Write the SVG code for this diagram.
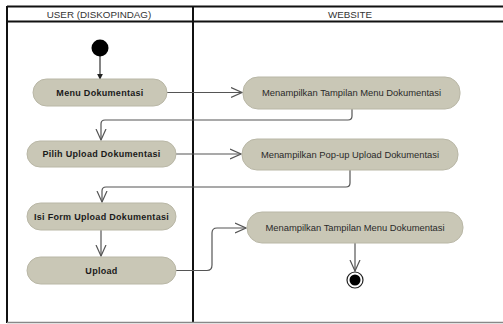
<svg xmlns="http://www.w3.org/2000/svg" width="503" height="324" viewBox="0 0 503 324">
  <style>
    .lane { stroke: #111; stroke-width: 2; fill: none; }
    .hdr { font-family: "Liberation Sans", Arial, sans-serif; font-size: 9.8px; fill: #333; text-anchor: middle; }
    .act { fill: #c9c7b6; stroke: #b9b7a6; stroke-width: 1; }
    .lbl { font-family: "Liberation Sans", Arial, sans-serif; font-size: 9px; font-weight: bold; fill: #1a1a1a; text-anchor: middle; letter-spacing: 0.3px; }
    .lbl2 { font-family: "Liberation Sans", Arial, sans-serif; font-size: 9.4px; fill: #2a2a2a; text-anchor: middle; }
    .flow { stroke: #555; stroke-width: 1.2; fill: none; marker-end: url(#open); }
  </style>
  <defs>
    <marker id="open" viewBox="0 0 12 12" refX="11" refY="6" markerWidth="12" markerHeight="12" markerUnits="userSpaceOnUse" orient="auto">
      <path d="M0,1 L11,6 L0,11" fill="none" stroke="#555" stroke-width="1.2"/>
    </marker>
    <marker id="solid" viewBox="0 0 8 8" refX="7" refY="4" markerWidth="6" markerHeight="6" markerUnits="userSpaceOnUse" orient="auto">
      <path d="M0,0 L8,4 L0,8 Z" fill="#222"/>
    </marker>
  </defs>
  <rect width="503" height="324" fill="#fff"/>

  <!-- swimlanes -->
  <g id="lanes">
    <line class="lane" x1="7" y1="6.5" x2="503" y2="6.5"/>
    <line class="lane" x1="7" y1="21.5" x2="503" y2="21.5"/>
    <line class="lane" x1="7" y1="6" x2="7" y2="323"/>
    <line class="lane" x1="193" y1="6" x2="193" y2="323"/>
    <line x1="7" y1="322.5" x2="503" y2="322.5" stroke="#888" stroke-width="1.5"/>
    <text class="hdr" x="99" y="17.5">USER (DISKOPINDAG)</text>
    <text class="hdr" x="350" y="17.5">WEBSITE</text>
  </g>

  <!-- connectors -->
  <g id="connectors">
    <line x1="100" y1="55" x2="100" y2="79" stroke="#333" stroke-width="1.2" marker-end="url(#solid)"/>
    <path class="flow" d="M167,92.5 H242"/>
    <path class="flow" d="M352,109 V116 Q352,120 348,120 H105 Q101,120 101,124 V140"/>
    <path class="flow" d="M176,154 H241"/>
    <path class="flow" d="M350,170 V183 Q350,187 346,187 H106 Q102,187 102,191 V202"/>
    <path class="flow" d="M101,230 V256"/>
    <path class="flow" d="M176,270.5 H207 Q212,270.5 212,265 V233 Q212,228 217,228 H246"/>
    <path class="flow" d="M355,243 V271"/>
  </g>

  <g id="start">
    <circle cx="100" cy="48" r="8.5" fill="#000"/>
  </g>

  <g id="menu-dokumentasi">
    <rect class="act" x="33" y="79" width="134" height="27" rx="13.5"/>
    <text class="lbl" x="100" y="95.5">Menu Dokumentasi</text>
  </g>

  <g id="tampil-menu-1">
    <rect class="act" x="243" y="77" width="217" height="32" rx="15"/>
    <text class="lbl2" x="351.5" y="96">Menampilkan Tampilan Menu Dokumentasi</text>
  </g>

  <g id="pilih-upload">
    <rect class="act" x="27" y="141" width="149" height="26" rx="13"/>
    <text class="lbl" x="101.5" y="157">Pilih Upload Dokumentasi</text>
  </g>

  <g id="tampil-popup">
    <rect class="act" x="242" y="139" width="216" height="31" rx="15"/>
    <text class="lbl2" x="350" y="158">Menampilkan Pop-up Upload Dokumentasi</text>
  </g>

  <g id="isi-form">
    <rect class="act" x="27" y="203" width="149" height="27" rx="13.5"/>
    <text class="lbl" x="101.5" y="219.5">Isi Form Upload Dokumentasi</text>
  </g>

  <g id="upload">
    <rect class="act" x="27" y="257" width="149" height="27" rx="13.5"/>
    <text class="lbl" x="101.5" y="273.5">Upload</text>
  </g>

  <g id="tampil-menu-2">
    <rect class="act" x="247" y="212" width="216" height="31" rx="15"/>
    <text class="lbl2" x="355" y="231">Menampilkan Tampilan Menu Dokumentasi</text>
  </g>

  <g id="end">
    <circle cx="355" cy="280" r="8" fill="#fff" stroke="#222" stroke-width="1.2"/>
    <circle cx="355" cy="280" r="5.5" fill="#000"/>
  </g>
</svg>
